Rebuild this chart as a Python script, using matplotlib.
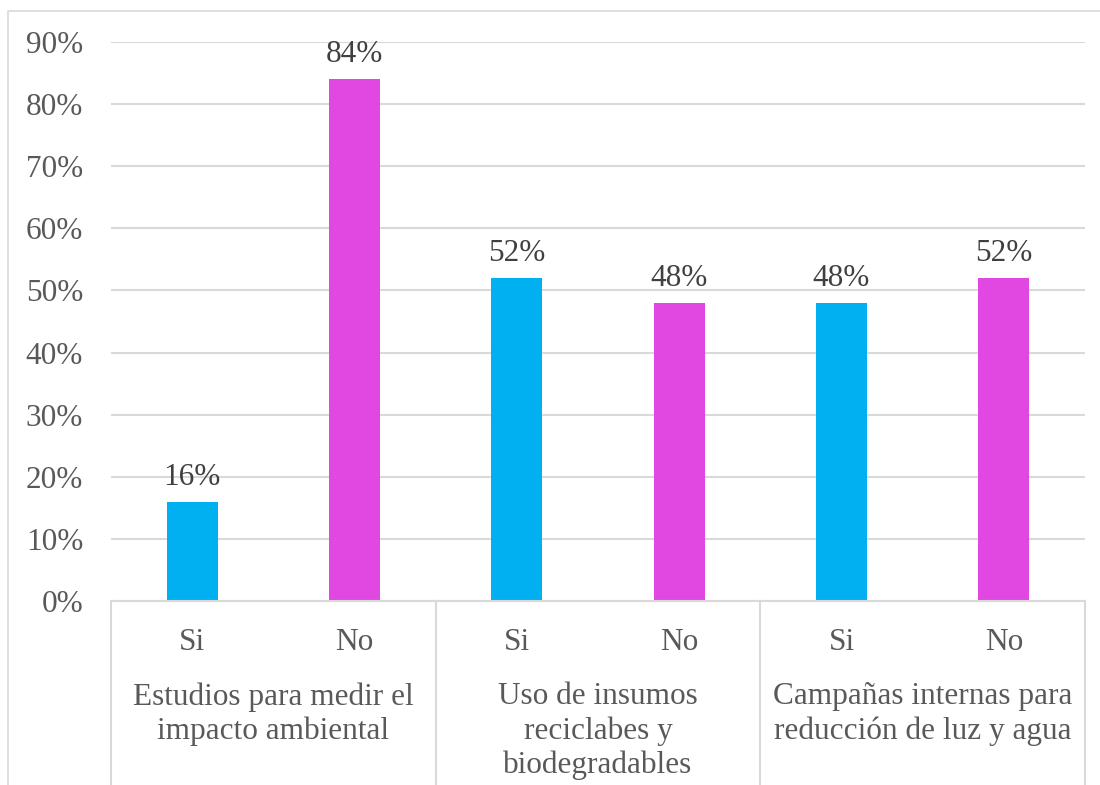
import matplotlib.pyplot as plt
from matplotlib.patches import Rectangle
from matplotlib.lines import Line2D
from matplotlib.ticker import FuncFormatter

grupos = ['Estudios para medir el\nimpacto ambiental',
          'Uso de insumos\nreciclabes y\nbiodegradables',
          'Campañas internas para\nreducción de luz y agua']
respuestas = ['Si', 'No', 'Si', 'No', 'Si', 'No']
valores = [16, 84, 52, 48, 48, 52]
colores = ['#00B0F0', '#E147E1', '#00B0F0', '#E147E1', '#00B0F0', '#E147E1']

plt.rcParams['font.family'] = ['Liberation Serif', 'DejaVu Serif']
gris = '#595959'
linea = '#D9D9D9'
fs = 22.5

fig = plt.figure(figsize=(11, 7.85), dpi=100)
ax = fig.add_axes([111 / 1100, (785 - 601) / 785, (1085 - 111) / 1100, (601 - 42) / 785])

# marco del gráfico
fig.patches.append(Rectangle((8 / 1100, -0.1), 1.2, (785 - 11) / 785 + 0.1,
                             transform=fig.transFigure, fill=False,
                             edgecolor=linea, lw=1.2))

x = list(range(len(valores)))
barras = ax.bar(x, valores, width=0.315, color=colores, zorder=3)
for b, v in zip(barras, valores):
    ax.text(b.get_x() + b.get_width() / 2, v + 1.6, f'{v}%', ha='center', va='bottom',
            fontsize=fs, color='#404040')

ax.set_xlim(-0.5, len(valores) - 0.5)
ax.set_ylim(0, 90)
ax.set_yticks(range(0, 91, 10))
ax.yaxis.set_major_formatter(FuncFormatter(lambda v, p: f'{v:.0f}%'))
ax.tick_params(axis='y', length=0, pad=20, labelsize=fs, labelcolor=gris)
ax.set_xticks([])
ax.grid(axis='y', color=linea, lw=1.5, zorder=0)
for s in ax.spines.values():
    s.set_visible(False)

# eje de categorías en dos niveles
tr = ax.get_xaxis_transform()
ax.add_line(Line2D([-0.5, 5.5], [0, 0], transform=tr, color=linea, lw=1.5, clip_on=False, zorder=4))
for sep in [-0.5, 1.5, 3.5, 5.5]:
    ax.add_line(Line2D([sep, sep], [0, -0.4], transform=tr, color=linea, lw=1.5, clip_on=False))
for xi, r in zip(x, respuestas):
    ax.text(xi, -41 / 559, r, transform=tr, ha='center', va='center', fontsize=fs, color=gris)
for i, g in enumerate(grupos):
    ax.text(2 * i + 0.5, -81 / 559, g, transform=tr, ha='center', va='top',
            fontsize=fs, color=gris, linespacing=1.23)

fig.savefig('out.png', dpi=100, facecolor='white')
